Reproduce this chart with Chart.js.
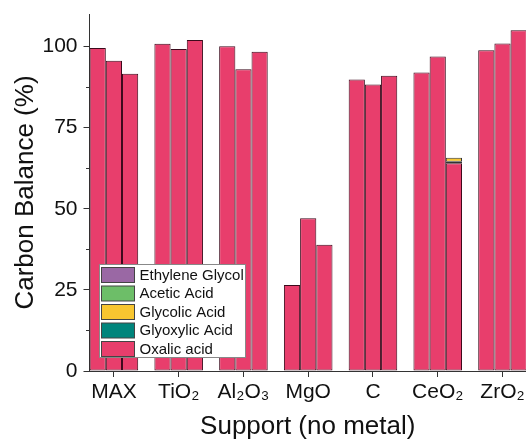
<!DOCTYPE html>
<html>
<head>
<meta charset="utf-8">
<script src="https://cdn.jsdelivr.net/npm/chart.js@4/dist/chart.umd.min.js"></script>
<style>
html,body{margin:0;padding:0;background:#fff;}
#wrap{width:526px;height:442px;}
</style>
</head>
<body>
<div id="wrap"><canvas id="c" width="526" height="442"></canvas></div>
<script>
const categories = ['MAX', 'TiO₂', 'Al₂O₃', 'MgO', 'C', 'CeO₂', 'ZrO₂'];
const yTicks = [0, 25, 50, 75, 100];
const yMinorTicks = [12.5, 37.5, 62.5, 87.5];
const seriesNames = ['Oxalic acid', 'Glyoxylic Acid', 'Glycolic Acid', 'Acetic Acid', 'Ethylene Glycol'];
const seriesColors = ['#E83E6C', '#00857C', '#F8C630', '#6DBE68', '#9A68A4'];

// three bars per support; values per compound
const oxalic1 = [99.5, 100.8, 100.1, 26.5, 89.8, 92.0, 98.8];
const oxalic2 = [95.6, 99.2, 93.0, 47.1, 88.3, 96.9, 100.9];
const oxalic3 = [91.6, 102.0, 98.4, 38.9, 91.0, 64.0, 105.0];
const glyoxylic1 = [0, 0, 0, 0, 0, 0, 0];
const glyoxylic2 = [0, 0, 0, 0, 0, 0, 0];
const glyoxylic3 = [0, 0, 0, 0, 0, 0.5, 0];
const glycolic1 = [0, 0, 0, 0, 0, 0, 0];
const glycolic2 = [0, 0, 0, 0, 0, 0, 0];
const glycolic3 = [0, 0, 0, 0, 0, 1.2, 0];
const acetic1 = [0, 0, 0, 0, 0, 0, 0];
const acetic2 = [0, 0, 0, 0, 0, 0, 0];
const acetic3 = [0, 0, 0, 0, 0, 0, 0];
const ethylene1 = [0, 0, 0, 0, 0, 0, 0];
const ethylene2 = [0, 0, 0, 0, 0, 0, 0];
const ethylene3 = [0, 0, 0, 0, 0, 0, 0];

const stacks = [
  [oxalic1, glyoxylic1, glycolic1, acetic1, ethylene1],
  [oxalic2, glyoxylic2, glycolic2, acetic2, ethylene2],
  [oxalic3, glyoxylic3, glycolic3, acetic3, ethylene3]
];

const BORDER = '#3c0a1c';
const datasets = [];
stacks.forEach((series, s) => {
  series.forEach((vals, k) => {
    datasets.push({
      label: seriesNames[k],
      stack: 's' + s,
      data: vals.map((v, i) => ({x: i, y: v === 0 ? null : v})),
      backgroundColor: seriesColors[k],
      borderColor: k === 0 ? BORDER : '#333',
      borderWidth: 1,
      borderSkipped: false,
      categoryPercentage: 0.75,
      barPercentage: 1.0
    });
  });
});

const FONT = "'Liberation Sans', Arial, sans-serif";

const minorTicks = {
  id: 'minorTicks',
  afterDraw(chart) {
    const ctx = chart.ctx, y = chart.scales.y, a = chart.chartArea;
    ctx.save();
    ctx.strokeStyle = '#333';
    ctx.lineWidth = 1;
    yMinorTicks.forEach(v => {
      const py = Math.round(y.getPixelForValue(v)) + 0.5;
      ctx.beginPath();
      ctx.moveTo(a.left - 3.5, py);
      ctx.lineTo(a.left, py);
      ctx.stroke();
    });
    ctx.restore();
  }
};

const boxLegend = {
  id: 'boxLegend',
  afterDraw(chart) {
    const ctx = chart.ctx;
    const left = 99.5, top = 264.5, w = 146, h = 93;
    ctx.save();
    ctx.fillStyle = '#fff';
    ctx.fillRect(left, top, w, h);
    ctx.strokeStyle = '#888';
    ctx.lineWidth = 1;
    ctx.strokeRect(left, top, w, h);
    ctx.font = '15px ' + FONT;
    ctx.textBaseline = 'middle';
    const order = [4, 3, 2, 1, 0];
    order.forEach((k, r) => {
      const sy = top + 3 + r * 18.5;
      ctx.fillStyle = seriesColors[k];
      ctx.fillRect(left + 2, sy, 33, 15);
      ctx.strokeStyle = '#444';
      ctx.strokeRect(left + 2, sy, 33, 15);
      ctx.fillStyle = '#111';
      ctx.fillText(seriesNames[k], left + 40, sy + 8);
    });
    ctx.restore();
  }
};

new Chart(document.getElementById('c'), {
  type: 'bar',
  data: {datasets},
  plugins: [minorTicks, boxLegend],
  options: {
    responsive: false,
    animation: false,
    devicePixelRatio: 1,
    layout: {padding: {top: 14, right: 0, left: 0, bottom: 0}},
    plugins: {legend: {display: false}, tooltip: {enabled: false}},
    scales: {
      x: {
        type: 'linear',
        offset: false,
        min: -0.377,
        max: 6.363,
        stacked: true,
        afterBuildTicks: (scale) => { scale.ticks = categories.map((_, i) => ({value: i})); },
        afterFit: (scale) => { scale.height = 71; scale.paddingLeft = 0; scale.paddingRight = 0; },
        grid: {display: true, offset: false, drawOnChartArea: false, drawTicks: true, tickLength: 6, color: '#333', tickColor: '#333'},
        border: {display: true, color: '#333', width: 1},
        ticks: {
          autoSkip: false,
          maxRotation: 0,
          padding: 3,
          color: '#111',
          font: {family: FONT, size: 21},
          callback: (v) => categories[v] !== undefined ? categories[v] : ''
        },
        title: {display: true, text: 'Support (no metal)', color: '#111', font: {family: FONT, size: 26}, padding: {top: 2, bottom: 0}}
      },
      y: {
        min: 0,
        max: 110,
        stacked: true,
        afterBuildTicks: (scale) => { scale.ticks = yTicks.map(v => ({value: v})); },
        afterFit: (scale) => { scale.width = 89.5; scale.paddingTop = 0; scale.paddingBottom = 0; },
        grid: {display: true, drawOnChartArea: false, drawTicks: true, tickLength: 6, color: '#333', tickColor: '#333'},
        border: {display: true, color: '#333', width: 1},
        ticks: {
          padding: 6,
          color: '#111',
          font: {family: FONT, size: 21},
          callback: (v) => String(v)
        },
        title: {display: true, text: 'Carbon Balance (%)', color: '#111', font: {family: FONT, size: 26}, padding: {top: 10, bottom: 0}}
      }
    }
  }
});
</script>
</body>
</html>
